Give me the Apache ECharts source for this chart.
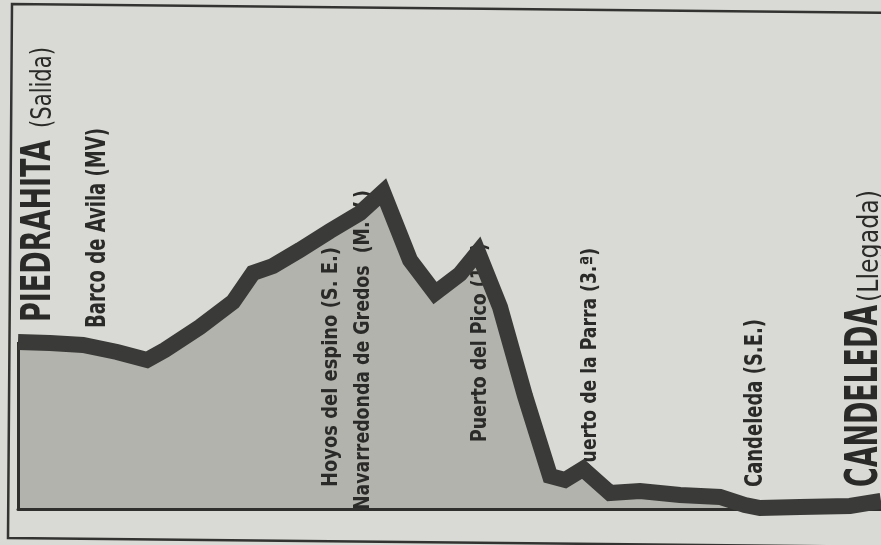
<!DOCTYPE html>
<html><head><meta charset="utf-8">
<script src="https://cdn.jsdelivr.net/npm/echarts@6/dist/echarts.min.js"></script>
<style>html,body{margin:0;padding:0;background:#d9d9d5;}#c{width:881px;height:545px;}</style>
</head><body><div id="c"></div>
<script>
// Stage profile Piedrahita -> Candeleda (distance in km, altitude in m)
const distanceKm = [0, 6.4, 13, 19.8, 25.8, 29.4, 36.4, 43, 47, 51, 56.4, 62.4, 68.4, 73, 78.4, 83.4, 88.4, 92, 96.4, 101.4, 106.4, 109.4, 113, 118.4, 124.4, 132.4, 140.4, 145.4, 148.4, 156.4, 166.4, 172.6];
const elevationM = [1001, 998, 992, 971, 947, 977, 1046, 1121, 1208, 1229, 1277, 1334, 1388, 1451, 1247, 1148, 1205, 1271, 1106, 839, 599, 587, 620, 548, 554, 542, 536, 512, 503, 506, 509, 524];

const placeNames = ["PIEDRAHITA", "(Salida)", "Barco de Avila (MV)", "Hoyos del espino (S. E.)", "Navarredonda de Gredos  (M. V.)", "Puerto del Pico (1.ª)", "Puerto de la Parra (3.ª)", "Candeleda (S.E.)", "CANDELEDA", "(Llegada)"];
const placeKm = [3.6, 4.6, 15.6, 62.2, 68.6, 92, 114, 147, 168.6, 170];

const yMin = 500, yMax = 2000, xMax = 172.6;
const FAMILY = '"Liberation Sans Narrow", "DejaVu Sans Condensed", sans-serif';
// layout of the rotated labels: start pixel y, length in px, font size, weight
const labelLayout = [
  {y0: 322, len: 182, size: 40, weight: 'bold'},
  {y0: 128, len: 81, size: 28, weight: 'normal'},
  {y0: 328, len: 200, size: 26, weight: 'bold'},
  {y0: 487, len: 240, size: 22, weight: 'bold'},
  {y0: 510, len: 320, size: 22, weight: 'bold'},
  {y0: 442, len: 199, size: 22, weight: 'bold'},
  {y0: 475, len: 227, size: 22, weight: 'bold'},
  {y0: 487, len: 168, size: 25, weight: 'bold'},
  {y0: 487, len: 182, size: 44, weight: 'bold'},
  {y0: 302, len: 112, size: 28, weight: 'normal'}
];

const profile = distanceKm.map((d, i) => [d, elevationM[i]]);
const chart = echarts.init(document.getElementById('c'), null, {renderer: 'canvas'});
chart.setOption({
  backgroundColor: '#d9d9d5',
  animation: false,
  grid: {left: 18, right: 0, top: 9, bottom: 36},
  xAxis: {type: 'value', min: 0, max: xMax, z: 4,
    axisLine: {show: true, lineStyle: {color: '#2f2f2d', width: 3}},
    axisTick: {show: false}, axisLabel: {show: false}, splitLine: {show: false}},
  yAxis: {type: 'value', min: yMin, max: yMax, axisLine: {show: false},
    axisTick: {show: false}, axisLabel: {show: false}, splitLine: {show: false}},
  series: [
    {type: 'line', data: profile, z: 1, symbol: 'none', silent: true,
     lineStyle: {width: 0}, areaStyle: {color: '#b3b3ae', opacity: 1},
     markLine: {symbol: 'none', silent: true, label: {show: false},
       lineStyle: {color: '#2f2f2d', width: 3, type: 'solid'},
       data: [[{coord: [distanceKm[0], yMin]}, {coord: [distanceKm[0], elevationM[0]]}]]}},
    {type: 'line', data: profile, z: 5, symbol: 'none', silent: true, clip: false,
     lineStyle: {color: '#3a3a38', width: 16, join: 'miter', miterLimit: 2, cap: 'butt'}}
  ]
});

const ctx = document.createElement('canvas').getContext('2d');
const labels = placeNames.map((t, i) => {
  const L = labelLayout[i];
  const font = L.weight + ' ' + L.size + 'px ' + FAMILY;
  ctx.font = font;
  const s = L.len / ctx.measureText(t).width;
  const px = chart.convertToPixel({gridIndex: 0}, [placeKm[i], yMin])[0] + 0.1 * L.size;
  return {type: 'text', x: px, y: L.y0, rotation: Math.PI / 2, scaleX: s, z: 3,
    style: {text: t, font: font, fill: '#2a2a28', align: 'left', verticalAlign: 'middle'}};
});
const frame = {type: 'polyline', z: 6, silent: true,
  shape: {points: [[900, 13], [12, 4], [8, 538], [900, 547]]},
  style: {stroke: '#333331', lineWidth: 2.5, fill: null}};
chart.setOption({graphic: [frame].concat(labels)});
</script></body></html>
